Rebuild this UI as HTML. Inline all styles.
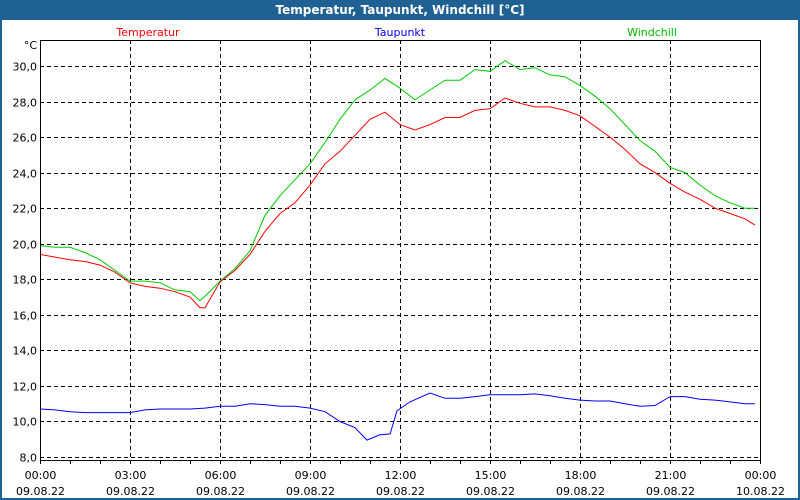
<!DOCTYPE html>
<html><head><meta charset="utf-8"><style>
body{margin:0;background:#fff;}
#wrap{position:relative;width:800px;height:500px;overflow:hidden;font-family:"DejaVu Sans","Liberation Sans",sans-serif;}
</style></head><body>
<div id="wrap">
<svg id="chart" width="800" height="500" xmlns="http://www.w3.org/2000/svg">
<rect x="0" y="0" width="800" height="500" fill="#1f6193"/>
<rect x="2" y="20" width="796" height="478" fill="#fff"/>
<text x="400" y="14" text-anchor="middle" fill="#fff" font-size="12" font-weight="bold">Temperatur, Taupunkt, Windchill [°C]</text>
<text x="148" y="36" text-anchor="middle" fill="#ff0000" font-size="11">Temperatur</text>
<text x="400" y="36" text-anchor="middle" fill="#0000ff" font-size="11">Taupunkt</text>
<text x="652" y="36" text-anchor="middle" fill="#00bb00" font-size="11">Windchill</text>
<text x="37" y="49" text-anchor="end" fill="#000" font-size="11">°C</text>
<g id="grid"></g><g id="series"></g><g id="axes"></g>
</svg>
</div>
<script>
const hours=[0,0.5,1,1.5,2,2.5,3,3.5,4,4.5,5,5.33,5.5,6,6.5,7,7.5,8,8.5,9,9.5,10,10.5,11,11.5,12,12.5,13,13.5,14,14.5,15,15.5,16,16.5,17,17.5,18,18.5,19,19.5,20,20.5,21,21.5,22,22.5,23,23.5,23.83];
const temperatur=[19.4,19.25,19.1,19.0,18.8,18.4,17.8,17.6,17.5,17.3,17.0,16.4,16.4,17.85,18.5,19.4,20.7,21.7,22.3,23.3,24.5,25.2,26.1,27.0,27.4,26.7,26.4,26.7,27.1,27.1,27.5,27.6,28.2,27.9,27.7,27.7,27.5,27.2,26.6,26.0,25.3,24.5,24.0,23.4,22.9,22.5,22.0,21.7,21.4,21.05];
const windchill=[19.9,19.8,19.8,19.5,19.1,18.5,17.9,17.9,17.8,17.4,17.3,16.8,17.05,17.9,18.6,19.6,21.6,22.7,23.6,24.5,25.7,27.0,28.1,28.65,29.3,28.75,28.1,28.65,29.2,29.2,29.8,29.7,30.3,29.8,29.9,29.5,29.4,28.9,28.3,27.6,26.7,25.8,25.2,24.3,24.0,23.3,22.7,22.3,22.0,22.0];
const taupunktHours=[0,0.5,1,1.5,2,2.5,3,3.5,4,4.5,5,5.5,6,6.5,7,7.5,8,8.5,9,9.5,10,10.5,10.9,11.33,11.67,11.9,12.33,13,13.5,14,14.5,15,15.5,16,16.5,17,17.5,18,18.5,19,19.5,20,20.5,21,21.5,22,22.5,23,23.5,23.83];
const taupunkt=[10.7,10.65,10.55,10.5,10.5,10.5,10.5,10.65,10.7,10.7,10.7,10.75,10.85,10.85,11.0,10.95,10.85,10.85,10.75,10.55,10.0,9.65,8.95,9.25,9.3,10.6,11.1,11.6,11.3,11.3,11.4,11.5,11.5,11.5,11.55,11.45,11.3,11.2,11.15,11.15,11.0,10.85,10.9,11.4,11.4,11.25,11.2,11.1,11.0,11.0];
const yTicks=[8,10,12,14,16,18,20,22,24,26,28,30];
const xTickHours=[0,3,6,9,12,15,18,21,24];
const xTimeLabels=["00:00","03:00","06:00","09:00","12:00","15:00","18:00","21:00","00:00"];
const xDateLabels=["09.08.22","09.08.22","09.08.22","09.08.22","09.08.22","09.08.22","09.08.22","09.08.22","10.08.22"];

const NS="http://www.w3.org/2000/svg";
const L=40,R=760,T=40,B=460;
const xs=h=>L+(R-L)*h/24;
const ys=v=>457-(v-8)*(391/22);
function mk(tag,attrs,parent){const e=document.createElementNS(NS,tag);for(const k in attrs)e.setAttribute(k,attrs[k]);parent.appendChild(e);return e;}
const grid=document.getElementById('grid'),axes=document.getElementById('axes'),series=document.getElementById('series');
yTicks.forEach(v=>{
  const y=Math.round(ys(v))+0.5;
  const g=mk('line',{x1:L,x2:R,y1:y,y2:y,stroke:'#000','stroke-dasharray':'4,3','stroke-width':1},grid);
  
  
  const t=mk('text',{x:37,y:y+4,'text-anchor':'end','font-size':11,fill:'#000'},axes);
  t.textContent=v.toFixed(1).replace('.',',');
  
  
});
xTickHours.forEach((h,i)=>{
  const x=Math.round(xs(h))+0.5;
  if(h>0&&h<24){
    const g=mk('line',{x1:x,x2:x,y1:T,y2:B+4,stroke:'#000','stroke-dasharray':'4,3','stroke-width':1},grid);
    
    
  }
  const t=mk('text',{x:x,y:479,'text-anchor':'middle','font-size':11,fill:'#000'},axes);
  t.textContent=xTimeLabels[i];
  
  
  const d=mk('text',{x:x,y:495,'text-anchor':'middle','font-size':11,fill:'#000'},axes);
  d.textContent=xDateLabels[i];
  
  
});
for(let h=0;h<=24;h++){
  const x=Math.round(xs(h))+0.5;
  const tk=mk('line',{x1:x,x2:x,y1:B,y2:B+4,stroke:'#000'},axes);
  
  
}
const box=mk('rect',{x:L+0.5,y:T+0.5,width:R-L,height:B-T,fill:'none',stroke:'#000'},axes);


function line(hh,vals,color,name){
  const pts=vals.map((v,i)=>xs(hh[i]).toFixed(1)+','+ys(v).toFixed(1)).join(' ');
  const p=mk('polyline',{points:pts,fill:'none',stroke:color,'stroke-width':1},series);
  
  
}
line(taupunktHours,taupunkt,'#0000ff','taupunkt-line');
line(hours,windchill,'#00cc00','windchill-line');
line(hours,temperatur,'#ff0000','temperatur-line');
</script>
</body></html>
